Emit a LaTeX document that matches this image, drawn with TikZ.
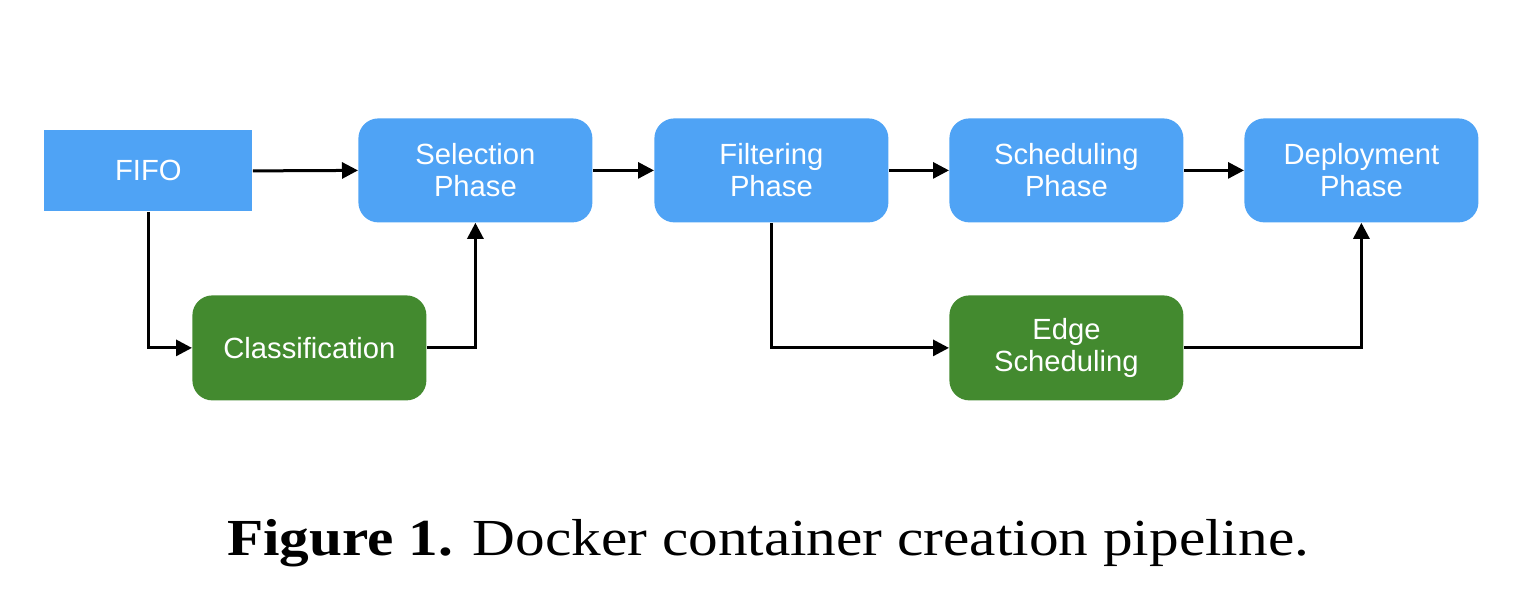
\documentclass[tikz,border=0pt]{standalone}
\usepackage{fontspec}
\setmainfont{Liberation Serif}
\newfontfamily\capfont[FakeStretch=1.14]{Liberation Serif}
\newfontfamily\boxfont{Liberation Sans}
\usetikzlibrary{arrows.meta}
\definecolor{bluebox}{HTML}{4FA3F5}
\definecolor{greenbox}{HTML}{438A2F}
\tikzset{
  px/.style={x=0.5pt,y=-0.5pt},
  base/.style={draw=none,text=white,font=\boxfont\fontsize{14.6}{16}\selectfont,align=center,inner sep=0pt,anchor=north west},
  bluerect/.style={base,fill=bluebox},
  bluestage/.style={base,fill=bluebox,rounded corners=10pt,minimum width=117pt,minimum height=52pt},
  greenstage/.style={base,fill=greenbox,rounded corners=10pt,minimum width=117pt,minimum height=52.5pt},
  conn/.style={line width=1.5pt,-{Triangle[length=8pt,width=8pt]}}
}
\begin{document}
\begin{tikzpicture}[px]
\useasboundingbox (0,0) rectangle (1538,614);
\node[bluerect,minimum width=104pt,minimum height=40.5pt] (fifo) at (44,130) {FIFO};
\node[bluestage] (sel) at (358,118) {Selection\\Phase};
\node[bluestage] (fil) at (654,118) {Filtering\\Phase};
\node[bluestage] (sch) at (949,118) {Scheduling\\Phase};
\node[bluestage] (dep) at (1244,118) {Deployment\\Phase};
\node[greenstage] (cls) at (192,295) {Classification};
\node[greenstage] (edge) at (949,295) {Edge\\Scheduling};
\draw[conn] (fifo.east) -- (sel.west);
\draw[conn] (sel.east) -- (fil.west);
\draw[conn] (fil.east) -- (sch.west);
\draw[conn] (sch.east) -- (dep.west);
\draw[conn] (fifo.south) |- (cls.west);
\draw[conn] (cls.east) -| (sel.south);
\draw[conn] (fil.south) |- (edge.west);
\draw[conn] (edge.east) -| (dep.south);
\node[font=\capfont\fontsize{26}{30}\selectfont] (cap) at (768,543) {\textbf{Figure 1.} Docker container creation pipeline.};
\end{tikzpicture}
\end{document}
